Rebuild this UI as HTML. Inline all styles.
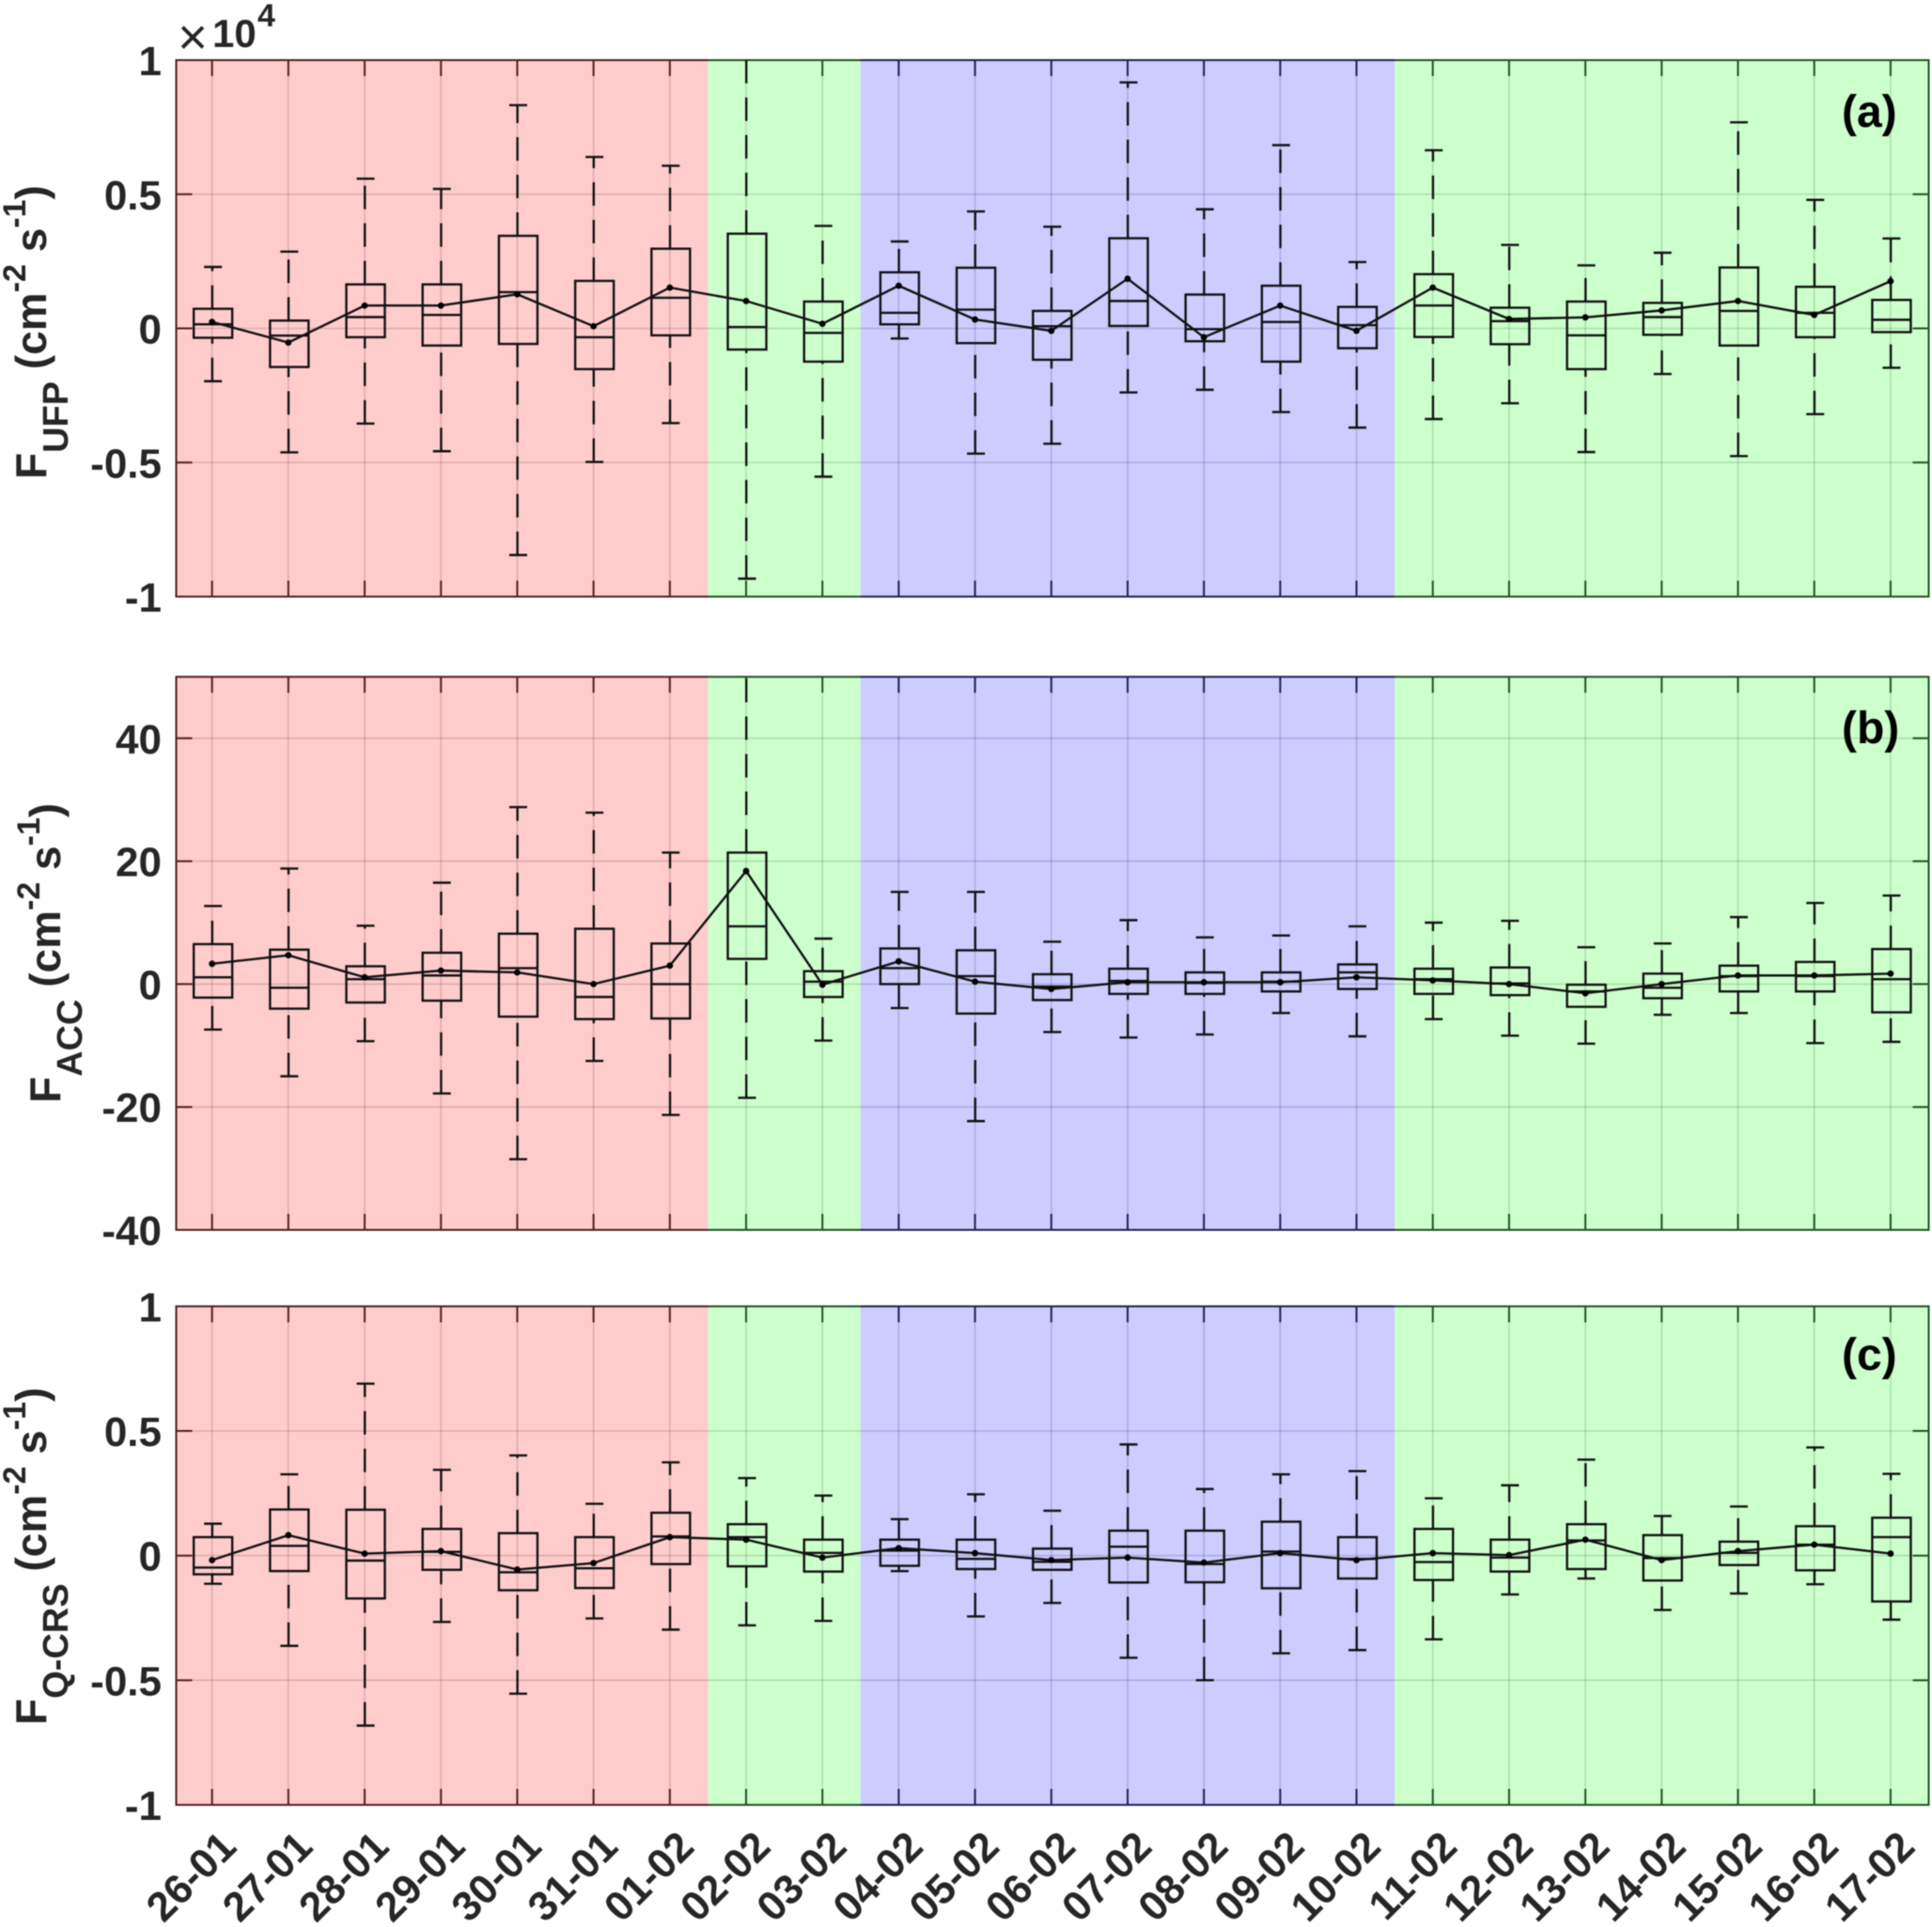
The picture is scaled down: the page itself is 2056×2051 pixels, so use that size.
<!DOCTYPE html>
<html lang="en">
<head>
<meta charset="utf-8">
<title>Particle flux box plots</title>
<style>
html,body{margin:0;padding:0;background:#fff;}
svg{display:block;font-family:"Liberation Sans",sans-serif;filter:blur(0.5px);}
.tl{font-size:44px;font-weight:700;fill:#262626;}
.yt{font-size:46px;font-weight:700;fill:#262626;}
.pl{font-size:48px;font-weight:700;fill:#000;}
</style>
</head>
<body>
<svg id="chart" xmlns="http://www.w3.org/2000/svg" width="2056" height="2051" viewBox="0 0 2056 2051">
  <rect x="0" y="0" width="2056" height="2051" fill="#fff"/>
  <g id="panels"></g>

  <g fill="#262626">
    <text x="189" y="58" font-size="55" font-weight="400">×</text>
    <text x="226" y="50" font-size="42" font-weight="700">10</text>
    <text x="274" y="28" font-size="34" font-weight="700">4</text>
  </g>

  <text class="yt" transform="translate(49,510) rotate(-90)">F<tspan font-size="38" dy="23">UFP</tspan><tspan dy="-23"> (cm</tspan><tspan font-size="34" dy="-22">-2</tspan><tspan dy="22"> s</tspan><tspan font-size="34" dy="-22">-1</tspan><tspan dy="22">)</tspan></text>
  <text class="yt" transform="translate(64,1174) rotate(-90)">F<tspan font-size="38" dy="23">ACC</tspan><tspan dy="-23"> (cm</tspan><tspan font-size="34" dy="-22">-2</tspan><tspan dy="22"> s</tspan><tspan font-size="34" dy="-22">-1</tspan><tspan dy="22">)</tspan></text>
  <text class="yt" transform="translate(49,1836) rotate(-90)">F<tspan font-size="38" dy="23">Q-CRS</tspan><tspan dy="-23"> (cm</tspan><tspan font-size="34" dy="-22">-2</tspan><tspan dy="22"> s</tspan><tspan font-size="34" dy="-22">-1</tspan><tspan dy="22">)</tspan></text>

  <text class="pl" x="1960" y="135">(a)</text>
  <text class="pl" x="1960" y="791">(b)</text>
  <text class="pl" x="1960" y="1458">(c)</text>
</svg>

<script>
// ---- categories and axis labels ----
const categories = ['26-01','27-01','28-01','29-01','30-01','31-01','01-02','02-02','03-02','04-02','05-02','06-02','07-02','08-02','09-02','10-02','11-02','12-02','13-02','14-02','15-02','16-02','17-02'];
const ticksUnit = [-1,-0.5,0,0.5,1];
const ticksAcc = [-40,-20,0,20,40];

// ---- shaded periods, as category index edges ----
const bandEdges = [-0.47,6.5,8.5,15.5,22.5];
const bandColors = ['#ff0000','#00ff00','#0000ff','#00ff00'];

// ---- panel (a) F_UFP, units of 10^4 ----
const ufpHigh = [.229,.286,.558,.52,.832,.639,.606,1.15,.382,.324,.436,.379,.917,.444,.683,.247,.664,.311,.235,.282,.768,.479,.335];
const ufpQ3 = [.073,.029,.164,.164,.345,.177,.297,.353,.1,.209,.226,.065,.336,.126,.159,.08,.202,.077,.1,.095,.227,.155,.106];
const ufpMedian = [.015,-.027,.042,.05,.135,-.033,.114,.005,-.017,.058,.07,.008,.102,-.003,.024,.012,.085,.027,-.026,.042,.065,.058,.032];
const ufpQ1 = [-.035,-.144,-.033,-.064,-.058,-.152,-.026,-.079,-.124,.015,-.055,-.117,.009,-.048,-.124,-.074,-.032,-.059,-.152,-.024,-.064,-.033,-.014];
const ufpLow = [-.197,-.462,-.355,-.458,-.845,-.498,-.353,-.933,-.553,-.038,-.467,-.43,-.239,-.229,-.312,-.37,-.338,-.279,-.461,-.17,-.476,-.32,-.147];
const ufpMean = [.024,-.053,.085,.085,.127,.008,.152,.102,.017,.159,.033,-.009,.185,-.033,.085,-.009,.152,.035,.041,.067,.102,.05,.176];

// ---- panel (b) F_ACC ----
const accHigh = [12.7,18.8,9.5,16.5,28.8,27.9,21.4,55,7.4,15,15,6.9,10.4,7.6,7.9,9.4,10,10.3,6,6.6,10.9,13.2,14.4];
const accQ3 = [6.5,5.6,2.9,5.1,8.2,9,6.6,21.4,2.1,5.8,5.5,1.6,2.5,1.9,1.9,3.2,2.5,2.7,-.1,1.7,3,3.6,5.7];
const accMedian = [1.1,-.6,.8,1.4,2.6,-2.1,0,9.4,.4,2.6,1.3,-.4,.5,.2,.4,1.9,.8,.1,-1.2,-.6,1.3,1.3,.8];
const accQ1 = [-2.2,-4,-3,-2.7,-5.3,-5.7,-5.6,4.1,-2.1,0,-4.8,-2.6,-1.6,-1.6,-1.2,-.8,-1.6,-1.8,-3.7,-2.3,-1.2,-1.2,-4.6];
const accLow = [-7.4,-15,-9.3,-17.8,-28.5,-12.5,-21.3,-18.5,-9.2,-3.9,-22.3,-7.8,-8.7,-8.2,-4.7,-8.5,-5.7,-8.4,-9.7,-5,-4.7,-9.6,-9.4];
const accMean = [3.3,4.7,1.1,2.2,1.9,0,3,18.4,-.1,3.7,.4,-.8,.3,.3,.3,1.1,.6,0,-1.5,0,1.4,1.4,1.7];

// ---- panel (c) F_Q-CRS ----
const crsHigh = [.128,.326,.69,.344,.402,.208,.374,.311,.241,.146,.246,.18,.446,.267,.326,.339,.23,.282,.385,.159,.197,.434,.328];
const crsQ3 = [.074,.185,.184,.107,.09,.074,.172,.126,.064,.064,.064,.028,.1,.1,.136,.074,.107,.064,.126,.082,.056,.118,.152];
const crsMedian = [-.048,.039,-.02,.015,-.067,-.051,.077,.074,.011,.02,-.013,-.025,.036,-.034,.016,-.013,-.026,-.008,.061,-.01,.011,.044,.074];
const crsQ1 = [-.075,-.062,-.172,-.057,-.139,-.13,-.034,-.043,-.064,-.041,-.054,-.057,-.108,-.107,-.131,-.092,-.098,-.064,-.054,-.1,-.038,-.059,-.184];
const crsLow = [-.113,-.362,-.682,-.266,-.554,-.252,-.297,-.28,-.262,-.062,-.244,-.19,-.41,-.5,-.392,-.379,-.336,-.156,-.092,-.218,-.152,-.115,-.257];
const crsMean = [-.018,.082,.008,.018,-.056,-.03,.074,.064,-.008,.03,.01,-.018,-.008,-.028,.01,-.018,.01,.002,.064,-.018,.018,.044,.008];

// ---- layout ----
const LEFT = 187.5, RIGHT = 2052.5, X_MIN = -0.47, X_MAX = 22.5;
const BOX_W = 41, CAP_W = 19, TICK = 17;
const NS = 'http://www.w3.org/2000/svg';
const root = document.getElementById('panels');

function xScale(i){ return LEFT + (i - X_MIN) * (RIGHT - LEFT) / (X_MAX - X_MIN); }

function mk(tag, parent, attrs){
  const n = document.createElementNS(NS, tag);
  for (const k in attrs) n.setAttribute(k, attrs[k]);
  parent.appendChild(n);
  return n;
}

function drawPanel(key, top, bottom, yMin, yMax, ticks, high, q3, median, q1, low, mean, showX){
  const y = v => bottom - (v - yMin) * (bottom - top) / (yMax - yMin);
  const g = mk('g', root, {});
  
  

  const clip = mk('clipPath', g, {id: 'clip-' + key});
  mk('rect', clip, {x: LEFT, y: top, width: RIGHT - LEFT, height: bottom - top});

  // grid lines
  categories.forEach((c, i) => {
    const l = mk('line', g, {x1: xScale(i), x2: xScale(i), y1: top, y2: bottom, stroke: '#000', 'stroke-opacity': .16, 'stroke-width': 1.6});
    
    
    const t1 = mk('line', g, {x1: xScale(i), x2: xScale(i), y1: top, y2: top + TICK, stroke: '#262626', 'stroke-width': 2});
    
    
    const t2 = mk('line', g, {x1: xScale(i), x2: xScale(i), y1: bottom - TICK, y2: bottom, stroke: '#262626', 'stroke-width': 2});
    
    
  });
  ticks.forEach(v => {
    const yy = y(v);
    if (yy > top + 1 && yy < bottom - 1) {
      const l = mk('line', g, {x1: LEFT, x2: RIGHT, y1: yy, y2: yy, stroke: '#000', 'stroke-opacity': .16, 'stroke-width': 1.6});
      
      
      const t1 = mk('line', g, {x1: LEFT, x2: LEFT + TICK, y1: yy, y2: yy, stroke: '#262626', 'stroke-width': 2});
      
      
      const t2 = mk('line', g, {x1: RIGHT - TICK, x2: RIGHT, y1: yy, y2: yy, stroke: '#262626', 'stroke-width': 2});
      
      
    }
    const lab = mk('text', g, {x: 172, y: yy + 16, 'text-anchor': 'end', class: 'tl'});
    lab.textContent = String(v);
    
    
  });

  const frame = mk('rect', g, {x: LEFT, y: top, width: RIGHT - LEFT, height: bottom - top, fill: 'none', stroke: '#262626', 'stroke-width': 2});
  
  

  // period shading drawn over the axes, as translucent patches
  bandColors.forEach((col, b) => {
    const x0 = xScale(bandEdges[b]) - (b === 0 ? 1 : 0);
    const x1 = xScale(bandEdges[b + 1]) + (b === bandColors.length - 1 ? 1 : 0);
    const r = mk('rect', g, {x: x0, y: top - 1, width: x1 - x0, height: bottom - top + 2, fill: col, 'fill-opacity': .2});
    
    
  });

  // boxes
  const marks = mk('g', g, {'clip-path': 'url(#clip-' + key + ')', fill: 'none', stroke: '#111', 'stroke-width': 2.4});
  categories.forEach((c, i) => {
    const cx = xScale(i) + 1;
    const b = mk('g', marks, {});
    
    
    mk('line', b, {x1: cx - .8, x2: cx - .8, y1: y(q3[i]), y2: y(high[i]), 'stroke-dasharray': '25 15'});
    mk('line', b, {x1: cx - .8, x2: cx - .8, y1: y(low[i]), y2: y(q1[i]), 'stroke-dasharray': '25 15'});
    mk('line', b, {x1: cx - CAP_W / 2, x2: cx + CAP_W / 2, y1: y(high[i]), y2: y(high[i])});
    mk('line', b, {x1: cx - CAP_W / 2, x2: cx + CAP_W / 2, y1: y(low[i]), y2: y(low[i])});
    mk('rect', b, {x: cx - BOX_W / 2, y: y(q3[i]), width: BOX_W, height: y(q1[i]) - y(q3[i])});
    mk('line', b, {x1: cx - BOX_W / 2, x2: cx + BOX_W / 2, y1: y(median[i]), y2: y(median[i])});
  });

  // mean line and points
  const pts = mean.map((v, i) => xScale(i) + ',' + y(v)).join(' ');
  const line = mk('polyline', marks, {points: pts});
  
  
  mean.forEach((v, i) => {
    const p = mk('circle', marks, {cx: xScale(i), cy: y(v), r: 2.8, fill: '#000', stroke: '#000', 'stroke-width': 1.2});
    
    
  });

  if (showX) {
    categories.forEach((c, i) => {
      const px = xScale(i) + 28, py = bottom + 47;
      const t = mk('text', g, {x: 0, y: 0, transform: 'translate(' + px + ',' + py + ') rotate(-45)', 'text-anchor': 'end', class: 'tl'});
      t.textContent = c;
      
      
    });
  }
}

drawPanel('a', 64, 635, -1, 1, ticksUnit, ufpHigh, ufpQ3, ufpMedian, ufpQ1, ufpLow, ufpMean, false);
drawPanel('b', 720.4, 1309, -40, 50, ticksAcc, accHigh, accQ3, accMedian, accQ1, accLow, accMean, false);
drawPanel('c', 1390.4, 1921, -1, 1, ticksUnit, crsHigh, crsQ3, crsMedian, crsQ1, crsLow, crsMean, true);
</script>
</body>
</html>
